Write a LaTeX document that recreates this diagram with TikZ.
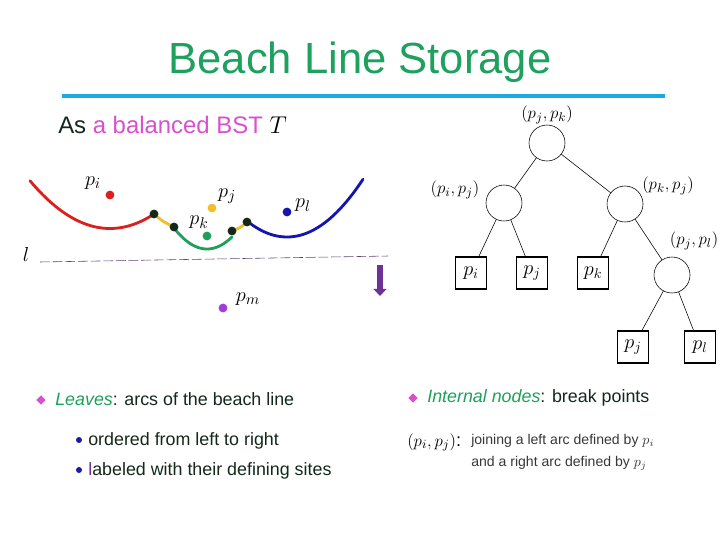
\documentclass[tikz,border=0pt]{standalone}
\usepackage{fontspec}
\setmainfont{Liberation Sans}
\usepackage{amsmath}
\usetikzlibrary{shapes.geometric}
\usetikzlibrary{arrows.meta}

\definecolor{titlegreen}{RGB}{30,160,95}
\definecolor{rulecyan}{RGB}{25,170,225}
\definecolor{pinkish}{RGB}{215,80,205}
\definecolor{inkgreen}{RGB}{20,40,25}
\definecolor{arcred}{RGB}{220,30,30}
\definecolor{arcyellow}{RGB}{240,190,40}
\definecolor{arcgreen}{RGB}{30,160,90}
\definecolor{arcblue}{RGB}{20,20,175}
\definecolor{sitepurple}{RGB}{160,60,220}
\definecolor{sweeppurple}{RGB}{110,50,150}
\definecolor{lineviolet}{RGB}{95,65,120}
\definecolor{dotblue}{RGB}{25,25,170}
\definecolor{notegray}{RGB}{55,55,55}

\tikzset{
  site/.style={circle, fill=#1, inner sep=0pt, minimum size=2.2mm},
  brk/.style={circle, fill=inkgreen, inner sep=0pt, minimum size=2.2mm},
  inner/.style={circle, draw, thin, minimum size=9mm, inner sep=0pt},
  leaf/.style={rectangle, draw, line width=0.8pt, minimum width=7.8mm, minimum height=8mm, inner sep=0pt, font=\fontsize{14}{16}\selectfont},
  brklabel/.style={font=\fontsize{13}{15}\selectfont},
  sitelabel/.style={font=\fontsize{15}{17}\selectfont},
  arc/.style={line width=2pt, line cap=round},
  bulletmain/.style={diamond, fill=pinkish, inner sep=0pt, minimum size=2.4mm},
  bulletsub/.style={circle, fill=dotblue, inner sep=0pt, minimum size=1.5mm},
  bodytext/.style={anchor=base west, inner sep=0pt, text=inkgreen, font=\fontsize{12.7}{15}\selectfont}
}

\begin{document}
\begin{tikzpicture}[x=0.025cm, y=-0.025cm]
\useasboundingbox (0,0) rectangle (720,540);

% title and rule
\node (title) [anchor=base, text=titlegreen, font=\fontsize{31}{36}\selectfont] at (360,73) {Beach Line Storage};
\draw [rulecyan, line width=3.5pt] (62,96) -- (665,96);
\node (subtitle) [anchor=base west, inner sep=0pt, font=\fontsize{17}{20}\selectfont] at (58,133)
  {\textcolor{inkgreen}{As} \textcolor{pinkish}{a balanced BST} $T$};

% beach line arcs
\draw [arc, arcred] plot [domain=30:154, samples=40] (\x, {228.5-(\x-110)^2/134});
\draw [arc, arcyellow] (154,214) .. controls (162,221) .. (174,227);
\draw [arc, arcgreen] plot [domain=174:232, samples=30] (\x, {249-(\x-207)^2/52});
\draw [arc, arcyellow] (232,231) .. controls (240,228) .. (247,222);
\draw [arc, arcblue] plot [domain=247:363, samples=40] (\x, {237-(\x-287)^2/100});

% break points
\node (b1) [brk] at (154,214) {};
\node (b2) [brk] at (174,227) {};
\node (b3) [brk] at (232,231) {};
\node (b4) [brk] at (247,222) {};

% sites
\node (si) [site=arcred] at (110,195) {};
\node (sj) [site=arcyellow] at (212,208) {};
\node (sk) [site=arcgreen] at (207,236) {};
\node (sl) [site=arcblue] at (287,212) {};
\node (sm) [site=sitepurple] at (223,308) {};
\node [sitelabel] at (93,183) {$p_i$};
\node [sitelabel] at (227,196) {$p_j$};
\node [sitelabel] at (199,222) {$p_k$};
\node [sitelabel] at (303,205) {$p_l$};
\node [sitelabel] at (248,299) {$p_m$};

% sweep line
\node [sitelabel] at (26,254) {$l$};
\draw [lineviolet, thin, dash pattern=on 7pt off 2pt] (40,262) -- (388,256);
\coordinate (sweeptop) at (380,265);
\coordinate (sweepbot) at (380,296);
\draw [sweeppurple, line width=4.5pt, -{Triangle[width=9pt,length=5pt]}] (sweeptop) -- (sweepbot);

% tree
\node (root) [inner] at (547,143) {};
\node (nl) [inner] at (504,203) {};
\node (nr) [inner] at (625,204) {};
\node (nrr) [inner] at (672,275) {};
\node (lfi) [leaf] at (471,273) {$p_i$};
\node (lfj) [leaf] at (532,273) {$p_j$};
\node (lfk) [leaf] at (593,273) {$p_k$};
\node (lfjj) [leaf] at (633,347) {$p_j$};
\node (lfl) [leaf] at (700,347) {$p_l$};
\draw [thin] (root) -- (nl);
\draw [thin] (root) -- (nr);
\draw [thin] (nl) -- (lfi);
\draw [thin] (nl) -- (lfj);
\draw [thin] (nr) -- (lfk);
\draw [thin] (nr) -- (nrr);
\draw [thin] (nrr) -- (lfjj);
\draw [thin] (nrr) -- (lfl);
\node [brklabel] at (547,115) {$(p_j,p_k)$};
\node [brklabel] at (455,190) {$(p_i,p_j)$};
\node [brklabel] at (668,186) {$(p_k,p_j)$};
\node [brklabel] at (694,241) {$(p_j,p_l)$};

% bullets
\node (dm1) [bulletmain] at (41,400) {};
\node (leaves) [bodytext] at (55,405) {\textcolor{arcgreen}{\itshape Leaves}: arcs of the beach line};
\node (sb1) [bulletsub] at (79,440) {};
\node (ordered) [bodytext] at (88,445) {ordered from left to right};
\node (sb2) [bulletsub] at (79,470) {};
\node (labeled) [bodytext] at (88,475) {\textcolor{sweeppurple}{l}abeled with their defining sites};
\node (dm2) [bulletmain] at (413,398) {};
\node (internal) [bodytext] at (427,402) {\textcolor{arcgreen}{\itshape Internal nodes}: break points};
\node (pair) [anchor=base west, inner sep=0pt, font=\fontsize{13}{15}\selectfont] at (407,446) {$(p_i,p_j)$:};
\node (note1) [anchor=base west, inner sep=0pt, text=notegray, font=\fontsize{10}{12}\selectfont] at (471,444) {joining a left arc defined by $p_i$};
\node (note2) [anchor=base west, inner sep=0pt, text=notegray, font=\fontsize{10}{12}\selectfont] at (471,466) {and a right arc defined by $p_j$};
\end{tikzpicture}
\end{document}
